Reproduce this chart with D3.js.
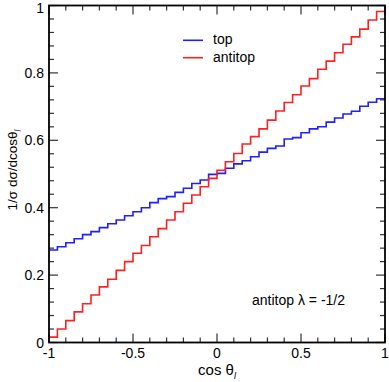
<!DOCTYPE html>
<html><head><meta charset="utf-8">
<script src="https://cdn.jsdelivr.net/npm/d3@7"></script>
<style>body{margin:0;background:#fff}svg{display:block}text{font-family:"Liberation Sans",Arial,sans-serif;fill:#000}</style>
</head><body>
<svg id="c" width="389" height="382"></svg>
<script>
// bin lower edges in cos(theta_l), 40 bins of width 0.05
const binEdges = d3.range(41).map(i => +(-1 + i * 0.05).toFixed(2));
const topValues = [0.2745,0.284,0.296,0.308,0.320,0.329,0.341,0.3525,0.3635,0.376,
  0.388,0.400,0.415,0.427,0.433,0.4455,0.4575,0.472,0.482,0.499,
  0.502,0.517,0.530,0.5395,0.551,0.565,0.576,0.583,0.604,0.608,
  0.6225,0.634,0.640,0.654,0.666,0.678,0.686,0.701,0.7127,0.7235];
const antitopValues = [0.016,0.040,0.065,0.091,0.115,0.141,0.165,0.1875,0.214,0.240,
  0.265,0.288,0.314,0.338,0.3635,0.388,0.413,0.4377,0.462,0.487,
  0.511,0.5365,0.561,0.589,0.611,0.634,0.660,0.687,0.712,0.735,
  0.761,0.783,0.811,0.835,0.860,0.885,0.907,0.930,0.957,0.982];
const xMajor = [-1,-0.5,0,0.5,1];
const xMajorLabels = ["-1","-0.5","0","0.5","1"];
const xMinor = [-0.9,-0.8,-0.7,-0.6,-0.4,-0.3,-0.2,-0.1,0.1,0.2,0.3,0.4,0.6,0.7,0.8,0.9];
const yMajor = [0,0.2,0.4,0.6,0.8,1];
const yMajorLabels = ["0","0.2","0.4","0.6","0.8","1"];
const yMinor = [0.04,0.08,0.12,0.16,0.24,0.28,0.32,0.36,0.44,0.48,0.52,0.56,0.64,0.68,0.72,0.76,0.84,0.88,0.92,0.96];
const seriesNames = ["top","antitop"];
const seriesColors = ["#1f1fff","#ff1f1f"];

const svg = d3.select("#c");
const L = 49, R = 385, T = 5.5, B = 342.5;
const x = d3.scaleLinear().domain([-1,1]).range([L,R]);
const y = d3.scaleLinear().domain([0,1]).range([B,T]);

const g = svg.append("g");
const stepLine = d3.line().x(d => x(d[0])).y(d => y(d[1])).curve(d3.curveStepAfter);
function pts(vals){ const p = vals.map((v,i)=>[binEdges[i],v]); p.push([binEdges[binEdges.length-1], vals[vals.length-1]]); return p; }
[topValues, antitopValues].forEach((vals,k)=>{
  g.append("path").attr("d", stepLine(pts(vals))).attr("fill","none")
   .attr("stroke", seriesColors[k]).attr("stroke-width",1.6);
});

// ticks (inward, all four sides)
const tk = svg.append("g").attr("stroke","#333").attr("stroke-width",1.2);
const MJ = 9, MN = 5;
xMajor.forEach(v=>{ tk.append("line").attr("x1",x(v)).attr("x2",x(v)).attr("y1",B).attr("y2",B-MJ);
  tk.append("line").attr("x1",x(v)).attr("x2",x(v)).attr("y1",T).attr("y2",T+MJ); });
xMinor.forEach(v=>{ tk.append("line").attr("x1",x(v)).attr("x2",x(v)).attr("y1",B).attr("y2",B-MN);
  tk.append("line").attr("x1",x(v)).attr("x2",x(v)).attr("y1",T).attr("y2",T+MN); });
yMajor.forEach(v=>{ tk.append("line").attr("y1",y(v)).attr("y2",y(v)).attr("x1",L).attr("x2",L+MJ);
  tk.append("line").attr("y1",y(v)).attr("y2",y(v)).attr("x1",R).attr("x2",R-MJ); });
yMinor.forEach(v=>{ tk.append("line").attr("y1",y(v)).attr("y2",y(v)).attr("x1",L).attr("x2",L+MN);
  tk.append("line").attr("y1",y(v)).attr("y2",y(v)).attr("x1",R).attr("x2",R-MN); });

svg.append("rect").attr("x",L).attr("y",T).attr("width",R-L).attr("height",B-T)
  .attr("fill","none").attr("stroke","#000").attr("stroke-width",1.8);

// tick labels
xMajor.forEach((v,i)=>svg.append("text").attr("x",x(v)).attr("y",B+15.5).attr("text-anchor","middle")
  .attr("font-size",14).text(xMajorLabels[i]));
yMajor.forEach((v,i)=>svg.append("text").attr("x",L-5).attr("y",Math.max(y(v)+5,12.5)).attr("text-anchor","end")
  .attr("font-size",14).text(yMajorLabels[i]));

// axis titles
const xt = svg.append("text").attr("x",217).attr("y",375).attr("text-anchor","middle").attr("font-size",15);
xt.append("tspan").text("cos θ");
xt.append("tspan").attr("font-size",9).attr("font-style","italic").attr("dy",4).text("l");
const yt = svg.append("text").attr("transform","translate(17,170) rotate(-90)").attr("text-anchor","middle").attr("font-size",13.5);
yt.append("tspan").text("1/σ dσ/dcosθ");
yt.append("tspan").attr("font-size",8.5).attr("font-style","italic").attr("dy",4).text("l");

// legend
seriesNames.forEach((n,i)=>{
  const ly = 40.3 + i*17.4;
  svg.append("line").attr("x1",183).attr("x2",203).attr("y1",ly).attr("y2",ly)
    .attr("stroke",seriesColors[i]).attr("stroke-width",1.6);
  svg.append("text").attr("x",213).attr("y",ly+4).attr("font-size",14).text(n);
});

// annotation
svg.append("text").attr("x",252).attr("y",305).attr("font-size",14).text("antitop λ = -1/2");
</script>
</body></html>
